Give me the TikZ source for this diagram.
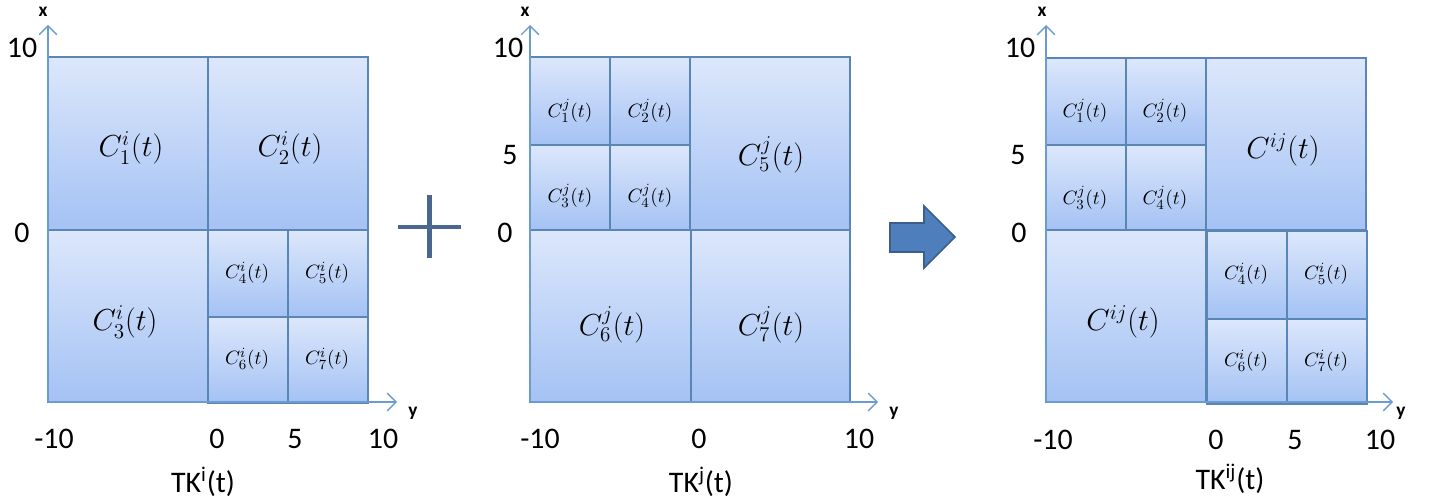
\documentclass[tikz,border=0pt]{standalone}
\usepackage{fontspec}
\newfontfamily\calibri{Carlito}
\usetikzlibrary{arrows.meta}
\definecolor{celltop}{HTML}{DCE7FB}
\definecolor{cellbot}{HTML}{A4C2F4}
\definecolor{cellborder}{HTML}{5A86B5}
\definecolor{axiscol}{HTML}{6C9BD2}
\definecolor{opcol}{HTML}{4A6792}
\definecolor{arrowfill}{HTML}{4F7EBD}
\definecolor{arrowborder}{HTML}{3A5F8F}
\tikzset{
  cell/.style={draw=cellborder, line width=0.9pt, top color=celltop, bottom color=cellbot},
  axis/.style={draw=axiscol, line width=0.8pt, -{Straight Barb[length=5pt,width=10pt]}},
  tick/.style={font=\calibri\fontsize{17}{20}\selectfont, text=black, inner sep=0pt},
  axlab/.style={font=\calibri\bfseries\fontsize{11}{13}\selectfont, text=black, inner sep=0pt},
  big/.style={font=\fontsize{17.28}{20}\selectfont, inner sep=0pt},
  small/.style={font=\fontsize{10.95}{12}\selectfont, inner sep=0pt},
}
\begin{document}
\begin{tikzpicture}[x=0.02cm,y=-0.02cm]
\useasboundingbox (0,0) rectangle (1435,503);

% ---------- Panel 1 ----------
\shade[cell] (48,57) rectangle (208,230);
\shade[cell] (208,57) rectangle (368,230);
\shade[cell] (48,230) rectangle (208,402);
\shade[cell] (208,230) rectangle (288,317);
\shade[cell] (288,230) rectangle (368,317);
\shade[cell] (208,317) rectangle (288,403);
\shade[cell] (288,317) rectangle (368,403);
\node[big] (a1) at (131,148) {$C_1^i(t)$};
\node[big] (a2) at (290,148) {$C_2^i(t)$};
\node[big] (a3) at (125,322) {$C_3^i(t)$};
\node[small] (a4) at (247,273) {$C_4^i(t)$};
\node[small] (a5) at (327,273) {$C_5^i(t)$};
\node[small] (a6) at (247,359) {$C_6^i(t)$};
\node[small] (a7) at (327,359) {$C_7^i(t)$};
\coordinate (o1) at (48,402);
\coordinate (xt1) at (48,25);
\coordinate (yt1) at (397,402);
\draw[axis] (o1) -- (xt1);
\draw[axis] (o1) -- (yt1);
\node[axlab] (xl1) at (43,12) {x};
\node[axlab] (yl1) at (413,413) {y};
\node[tick] (p1x10) at (22,48) {10};
\node[tick] (p1x0) at (22,233) {0};
\node[tick] (p1ym10) at (54,439) {-10};
\node[tick] (p1y0) at (217,439) {0};
\node[tick] (p1y5) at (295,439) {5};
\node[tick] (p1y10) at (383,439) {10};
\node[tick] (tk1) at (203,482) {TK\textsuperscript{i}(t)};

% plus sign
\draw[opcol, line width=2.8pt] (398,227) -- (461,227);
\draw[opcol, line width=2.8pt] (429.5,195) -- (429.5,258);

% ---------- Panel 2 ----------
\shade[cell] (530,57) rectangle (610,145);
\shade[cell] (610,57) rectangle (690,145);
\shade[cell] (530,145) rectangle (610,230);
\shade[cell] (610,145) rectangle (690,230);
\shade[cell] (690,57) rectangle (850,230);
\shade[cell] (530,230) rectangle (691,402);
\shade[cell] (691,230) rectangle (850,402);
\node[small] (b1) at (570,111) {$C_1^j(t)$};
\node[small] (b2) at (650,111) {$C_2^j(t)$};
\node[small] (b3) at (570,196) {$C_3^j(t)$};
\node[small] (b4) at (650,196) {$C_4^j(t)$};
\node[big] (b5) at (771,155) {$C_5^j(t)$};
\node[big] (b6) at (612,325) {$C_6^j(t)$};
\node[big] (b7) at (771,325) {$C_7^j(t)$};
\coordinate (o2) at (530,402);
\coordinate (xt2) at (530,25);
\coordinate (yt2) at (878,402);
\draw[axis] (o2) -- (xt2);
\draw[axis] (o2) -- (yt2);
\node[axlab] (xl2) at (525,12) {x};
\node[axlab] (yl2) at (894,413) {y};
\node[tick] (p2x10) at (508,48) {10};
\node[tick] (p2x5) at (510,155) {5};
\node[tick] (p2x0) at (505,233) {0};
\node[tick] (p2ym10) at (540,439) {-10};
\node[tick] (p2y0) at (699,439) {0};
\node[tick] (p2y10) at (859,439) {10};
\node[tick] (tk2) at (701,482) {TK\textsuperscript{j}(t)};

% block arrow
\draw[arrowborder, fill=arrowfill, line width=0.9pt, line join=miter]
  (890,223) -- (924,223) -- (924,206) -- (955,237) -- (924,268) -- (924,252) -- (890,252) -- cycle;

% ---------- Panel 3 ----------
\shade[cell] (1046,58) rectangle (1126,145);
\shade[cell] (1126,58) rectangle (1206,145);
\shade[cell] (1046,145) rectangle (1126,230);
\shade[cell] (1126,145) rectangle (1206,230);
\shade[cell] (1206,58) rectangle (1366,230);
\shade[cell] (1046,230) rectangle (1206,402);
\shade[cell] (1207,231) rectangle (1287,319);
\shade[cell] (1287,231) rectangle (1367,319);
\shade[cell] (1207,319) rectangle (1287,404);
\shade[cell] (1287,319) rectangle (1367,404);
\node[small] (e1) at (1085,111) {$C_1^j(t)$};
\node[small] (e2) at (1165,111) {$C_2^j(t)$};
\node[small] (e3) at (1085,198) {$C_3^j(t)$};
\node[small] (e4) at (1165,198) {$C_4^j(t)$};
\node[big] (e5) at (1283,150) {$C^{ij}(t)$};
\node[big] (e6) at (1123,322) {$C^{ij}(t)$};
\node[small] (e7) at (1246,274) {$C_4^i(t)$};
\node[small] (e8) at (1326,274) {$C_5^i(t)$};
\node[small] (e9) at (1246,361) {$C_6^i(t)$};
\node[small] (e10) at (1326,361) {$C_7^i(t)$};
\coordinate (o3) at (1046,402);
\coordinate (xt3) at (1046,25);
\coordinate (yt3) at (1393,402);
\draw[axis] (o3) -- (xt3);
\draw[axis] (o3) -- (yt3);
\node[axlab] (xl3) at (1042,12) {x};
\node[axlab] (yl3) at (1401,413) {y};
\node[tick] (p3x10) at (1020,48) {10};
\node[tick] (p3x5) at (1018,155) {5};
\node[tick] (p3x0) at (1019,233) {0};
\node[tick] (p3ym10) at (1053,440) {-10};
\node[tick] (p3y0) at (1216,440) {0};
\node[tick] (p3y5) at (1295,440) {5};
\node[tick] (p3y10) at (1380,440) {10};
\node[tick] (tk3) at (1230,479) {TK\textsuperscript{ij}(t)};
\end{tikzpicture}
\end{document}
